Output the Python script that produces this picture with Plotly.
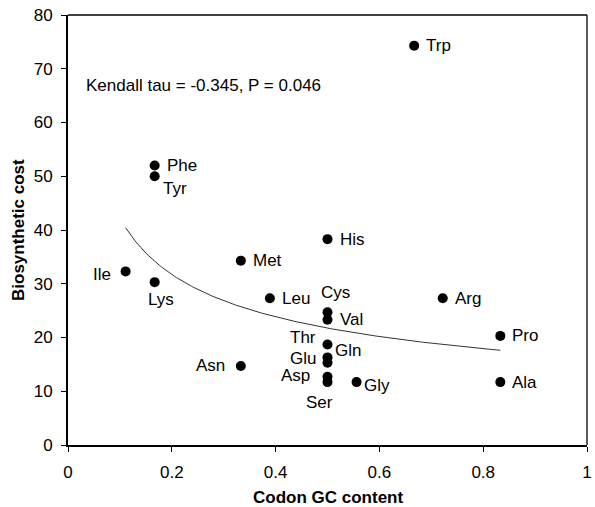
import numpy as np
import plotly.graph_objects as go

# ---- data ----
amino_acids = ["Ala", "Arg", "Asn", "Asp", "Cys", "Gln", "Glu", "Gly", "His", "Ile",
               "Leu", "Lys", "Met", "Phe", "Pro", "Ser", "Thr", "Trp", "Tyr", "Val"]
gc_content = [0.833, 0.722, 0.333, 0.5, 0.5, 0.5, 0.5, 0.556, 0.5, 0.111,
              0.389, 0.167, 0.333, 0.167, 0.833, 0.5, 0.5, 0.667, 0.167, 0.5]
cost = [11.7, 27.3, 14.7, 12.7, 24.7, 16.3, 15.3, 11.7, 38.3, 32.3,
        27.3, 30.3, 34.3, 52.0, 20.3, 11.7, 18.7, 74.3, 50.0, 23.3]
stat_text = "Kendall tau = -0.345, P = 0.046"
x_ticks = [0, 0.2, 0.4, 0.6, 0.8, 1]
x_tick_labels = ["0", "0.2", "0.4", "0.6", "0.8", "1"]
y_ticks = [0, 10, 20, 30, 40, 50, 60, 70, 80]

# ---- label placement (style): xanchor, xshift, yshift in px ----
label_style = {
    "Ala": ("left", 10, 0), "Arg": ("left", 10, 0), "Asn": ("right", -14, 0),
    "Asp": ("right", -16, 1), "Cys": ("center", 8, 20), "Gln": ("left", 5, 7),
    "Glu": ("right", -10, 4), "Gly": ("left", 5, -3), "His": ("left", 10, 0),
    "Ile": ("right", -13, -3), "Leu": ("left", 10, 0), "Lys": ("center", 6, -17),
    "Met": ("left", 10, 0), "Phe": ("left", 10, 0), "Pro": ("left", 10, 0),
    "Ser": ("center", -8, -20), "Thr": ("right", -10, 7), "Trp": ("left", 10, 0),
    "Tyr": ("left", 6, -12), "Val": ("left", 10, 0),
}

FONT = "Arial, 'Liberation Sans', Helvetica, sans-serif"

# power trend line (least squares on log-log, as a spreadsheet power trendline)
b, ln_a = np.polyfit(np.log(gc_content), np.log(cost), 1)
xs = np.linspace(min(gc_content), max(gc_content), 200)
ys = np.exp(ln_a) * xs ** b

fig = go.Figure()
fig.add_trace(go.Scatter(x=xs, y=ys, mode="lines",
                         line=dict(color="#333333", width=1), hoverinfo="skip"))
fig.add_trace(go.Scatter(x=gc_content, y=cost, mode="markers", text=amino_acids,
                         marker=dict(color="black", size=10)))

for name, gx, cy in zip(amino_acids, gc_content, cost):
    anchor, xs_, ys_ = label_style[name]
    fig.add_annotation(x=gx, y=cy, text=name, showarrow=False, xanchor=anchor,
                       yanchor="middle", xshift=xs_, yshift=ys_,
                       font=dict(family=FONT, size=17, color="black"))

fig.add_annotation(xref="paper", yref="paper", x=0, y=0.835, xshift=16, text=stat_text,
                   showarrow=False, xanchor="left", yanchor="middle",
                   font=dict(family=FONT, size=17, color="black"))

# axis titles
fig.add_annotation(xref="paper", yref="paper", x=0.5, y=0, yshift=-52,
                   text="<b>Codon GC content</b>", showarrow=False,
                   xanchor="center", yanchor="middle",
                   font=dict(family=FONT, size=17, color="black"))
fig.add_annotation(xref="paper", yref="paper", x=0, y=0.5, xshift=-50,
                   text="<b>Biosynthetic cost</b>", showarrow=False, textangle=-90,
                   xanchor="center", yanchor="middle",
                   font=dict(family=FONT, size=17, color="black"))

# thin top / right frame
fig.add_shape(type="line", xref="paper", yref="paper", x0=0, x1=1, y0=1, y1=1,
              line=dict(color="black", width=1.3))
fig.add_shape(type="line", xref="paper", yref="paper", x0=1, x1=1, y0=0, y1=1,
              line=dict(color="black", width=1.3))

fig.update_layout(
    width=595, height=507,
    margin=dict(l=68, r=8, t=15, b=62, autoexpand=False),
    paper_bgcolor="white", plot_bgcolor="white",
    showlegend=False,
    font=dict(family=FONT, size=17, color="black"),
    xaxis=dict(range=[0, 1], tickvals=x_ticks, ticktext=x_tick_labels,
               showgrid=False, zeroline=False, showline=True, linecolor="black",
               linewidth=2, ticks="outside", ticklen=5, tickcolor="black",
               ticklabelstandoff=6, tickfont=dict(size=17)),
    yaxis=dict(range=[0, 80], tickvals=y_ticks, showgrid=False, zeroline=False,
               showline=True, linecolor="black", linewidth=2, ticks="outside",
               ticklen=5, tickcolor="black", ticklabelstandoff=5,
               tickfont=dict(size=17)),
)

fig.write_html("out.html")
